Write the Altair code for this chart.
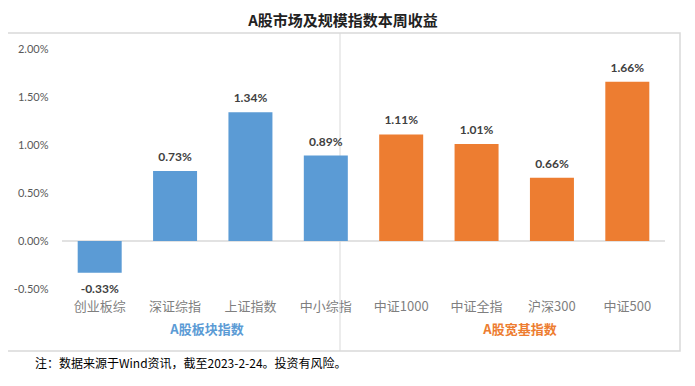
import altair as alt
import pandas as pd

categories = ["创业板综", "深证综指", "上证指数", "中小综指", "中证1000", "中证全指", "沪深300", "中证500"]
values = [-0.33, 0.73, 1.34, 0.89, 1.11, 1.01, 0.66, 1.66]
groups = ["A股板块指数"] * 4 + ["A股宽基指数"] * 4
y_ticks = [-0.5, 0.0, 0.5, 1.0, 1.5, 2.0]
title_text = "A股市场及规模指数本周收益"
note_text = "注：数据来源于Wind资讯，截至2023-2-24。投资有风险。"

BLUE = "#5B9BD5"
ORANGE = "#ED7D31"
CJK = "Noto Sans CJK SC"

df = pd.DataFrame({
    "cat": categories,
    "val": values,
    "grp": groups,
    "lbl": [f"{v:.2f}%" for v in values],
})

W, H = 603, 240

x_scale = alt.Scale(domain=categories, paddingInner=0.42, paddingOuter=0.21)
x_enc = alt.X("cat:N", sort=categories, scale=x_scale,
              axis=alt.Axis(title=None, domain=False, ticks=False, labelAngle=0,
                            labelFont=CJK, labelFontSize=13, labelColor="#7f7f7f",
                            labelPadding=11))
y_scale = alt.Scale(domain=[-0.5, 2.0], nice=False, zero=False)
y_enc = alt.Y("val:Q", scale=y_scale,
              axis=alt.Axis(title=None, domain=False, ticks=False, grid=False, values=y_ticks,
                            labelExpr="(datum.value < 0 ? '-' : '') + format(abs(datum.value), '.2f') + '%'",
                            labelFont="Lato", labelFontSize=11, labelColor="#595959",
                            labelPadding=14))

base = alt.Chart(df)

bars = base.mark_bar(size=44).encode(
    x=x_enc,
    y=y_enc,
    color=alt.Color("grp:N", scale=alt.Scale(domain=["A股板块指数", "A股宽基指数"], range=[BLUE, ORANGE]), legend=None),
)

pos_labels = base.transform_filter("datum.val >= 0").mark_text(
    dy=-14, baseline="middle", font="Lato", fontWeight="bold", fontSize=12, color="#404040"
).encode(x=alt.X("cat:N", sort=categories, scale=x_scale), y=alt.Y("val:Q", scale=y_scale), text="lbl:N")

neg_labels = base.transform_filter("datum.val < 0").mark_text(
    dy=16, baseline="middle", font="Lato", fontWeight="bold", fontSize=12, color="#404040"
).encode(x=alt.X("cat:N", sort=categories, scale=x_scale), y=alt.Y("val:Q", scale=y_scale), text="lbl:N")

zero_line = alt.Chart(pd.DataFrame({"z": [0.0]})).mark_rule(color="#d9d9d9", strokeWidth=1.5).encode(
    y=alt.Y("z:Q", scale=y_scale)
)

frame = alt.Chart(pd.DataFrame({"a": [0]})).mark_rect(
    fillOpacity=0, stroke="#d9d9d9", strokeWidth=1.5, strokeOpacity=1, clip=False
).encode(x=alt.value(-58), x2=alt.value(618), y=alt.value(-16), y2=alt.value(302))

sep = alt.Chart(pd.DataFrame({"a": [0]})).mark_rule(color="#d9d9d9", strokeWidth=1).encode(
    x=alt.value(278), y=alt.value(-16), y2=alt.value(302)
)

title = alt.Chart(pd.DataFrame({"t": [title_text]})).mark_text(
    font=CJK, fontSize=15, fontWeight="bold", color="#222222", align="center", baseline="middle"
).encode(x=alt.value(281), y=alt.value(-28), text="t:N")

grp1 = alt.Chart(pd.DataFrame({"g": [groups[0]]})).mark_text(
    font=CJK, fontSize=13, fontWeight="bold", align="center", baseline="middle", color=BLUE
).encode(x=alt.value(145), y=alt.value(281), text="g:N")

grp2 = alt.Chart(pd.DataFrame({"g": [groups[-1]]})).mark_text(
    font=CJK, fontSize=13, fontWeight="bold", align="center", baseline="middle", color=ORANGE
).encode(x=alt.value(458), y=alt.value(281), text="g:N")

note = alt.Chart(pd.DataFrame({"t": [note_text]})).mark_text(
    font=CJK, fontSize=12, color="#000000", align="left", baseline="middle"
).encode(x=alt.value(-27), y=alt.value(315), text="t:N")

chart = alt.layer(frame, sep, zero_line, bars, pos_labels, neg_labels, title, note, grp1, grp2).properties(
    width=W, height=H,
    autosize=alt.AutoSizeParams(type="none"),
    padding={"left": 54, "top": 41, "right": 22, "bottom": 95},
    background="white",
).configure_view(strokeWidth=0)

chart.save("out.html", embed_options={"renderer": "svg", "actions": False})
